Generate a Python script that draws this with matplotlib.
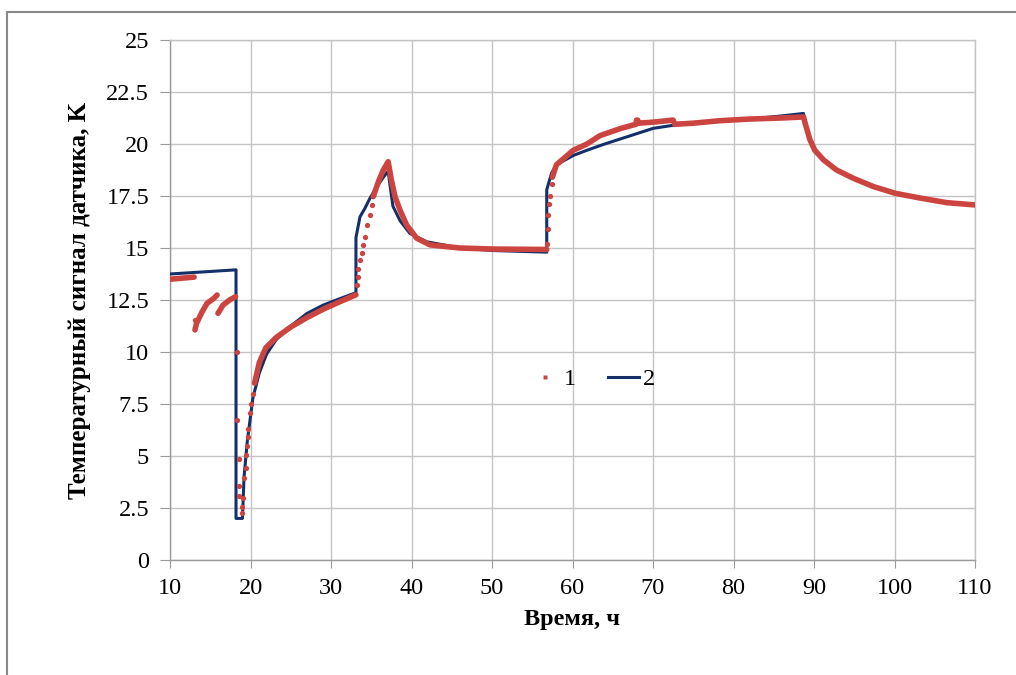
import matplotlib
matplotlib.use("Agg")
import matplotlib.pyplot as plt
from matplotlib.lines import Line2D
from matplotlib.patches import Rectangle

# series 2 (solid line)
blue_x = [10, 18.2, 18.2, 19.0, 19.2, 19.6, 20.3, 21.1, 22, 23.2, 25, 27, 29, 31, 33.1, 33.1,
          33.6, 34.2, 34.85, 35.7, 36.5, 37.1, 37.3, 37.7, 38.6, 39.8, 41.9, 46, 50, 56.8, 56.8,
          57.4, 58.0, 60.1, 61.8, 64, 66, 68, 70, 72.5, 75, 78, 82, 86, 88.7, 88.9, 89.5, 90.1,
          91.2, 92.8, 94.9, 97.4, 100.1, 103.2, 106.5, 110]
blue_y = [13.75, 13.95, 2.0, 2.0, 4.0, 5.7, 7.8, 9.0, 9.9, 10.6, 11.25, 11.85, 12.25, 12.55, 12.85, 15.5,
          16.5, 16.9, 17.4, 17.95, 18.4, 18.7, 18.1, 17.0, 16.3, 15.7, 15.3, 15.0, 14.88, 14.8, 17.8,
          18.6, 19.0, 19.45, 19.7, 20.0, 20.25, 20.5, 20.75, 20.9, 21.0, 21.1, 21.2, 21.35, 21.47, 21.0, 20.2, 19.7,
          19.23, 18.75, 18.35, 17.95, 17.63, 17.4, 17.18, 17.05]

# series 1 (dots): dense runs
red_runs_x = [
    [10, 11.5, 13.0],
    [13.1, 13.3, 14.0, 14.6, 15.45, 15.85],
    [15.96, 16.6, 17.4, 18.15],
    [20.5, 21.1, 21.9, 23.2, 25, 27, 29, 31, 33.1],
    [35.25, 35.9, 36.5, 37.1, 37.5, 37.95, 38.6, 39.4, 40.65, 42.3, 46, 50, 56.8],
    [57.5, 58.0, 60.1, 61.8, 63.4, 66, 67.9, 67.95, 68.1, 68.15, 70, 72.5, 72.7, 75, 78.3,
     82, 86, 88.7, 88.9, 89.5, 90.1, 91.2, 92.8, 94.9, 97.4, 100.1, 103.2, 106.5, 110],
]
red_runs_y = [
    [13.5, 13.55, 13.6],
    [11.06, 11.38, 11.94, 12.34, 12.58, 12.74],
    [11.86, 12.26, 12.5, 12.66],
    [8.5, 9.5, 10.2, 10.7, 11.2, 11.65, 12.05, 12.4, 12.75],
    [17.47, 18.2, 18.75, 19.15, 18.27, 17.47, 16.8, 16.1, 15.47, 15.15, 15.0, 14.95, 14.93],
    [18.4, 19.0, 19.7, 20.0, 20.4, 20.75, 20.95, 21.15, 21.15, 21.0, 21.05, 21.15, 20.95, 21.0, 21.12,
     21.2, 21.25, 21.3, 21.0, 20.2, 19.7, 19.23, 18.75, 18.35, 17.95, 17.63, 17.4, 17.18, 17.07],
]
# series 1: isolated dots
red_pts_x = [13.1, 18.28, 18.28, 18.53, 18.57, 18.61, 18.9, 19.0, 19.1, 19.2, 19.4, 19.5, 19.6,
             19.65, 19.7, 19.9, 20.1, 20.3,
             33.2, 33.3, 33.4, 33.6, 33.8, 34.0, 34.2, 34.5, 34.85, 35.05,
             56.8, 56.9, 57.0, 57.1, 57.2, 57.4]
red_pts_y = [11.54, 10.0, 6.73, 4.84, 3.56, 3.08, 2.56, 2.24, 2.97, 3.94, 4.44, 5.05, 5.5,
             5.93, 6.3, 7.06, 7.5, 8.0,
             13.2, 13.6, 14.0, 14.4, 14.75, 15.15, 15.55, 16.1, 16.6, 17.05,
             15.2, 15.9, 16.6, 17.1, 17.5, 18.1]

x_ticks = list(range(10, 111, 10))
y_ticks = [0, 2.5, 5, 7.5, 10, 12.5, 15, 17.5, 20, 22.5, 25]
y_labels = ["0", "2.5", "5", "7.5", "10", "12.5", "15", "17.5", "20", "22.5", "25"]

RED = "#CC4440"
NAVY = "#13306B"
GRID = "#C4C4C4"

plt.rcParams["font.family"] = ["Liberation Serif", "DejaVu Serif"]

fig = plt.figure(figsize=(10.16, 6.75), dpi=100)
ax = fig.add_axes([170 / 1016, 1 - 560 / 675, 805 / 1016, 520 / 675])

ax.plot(blue_x, blue_y, color=NAVY, lw=2.2, zorder=3)
for xs, ys in zip(red_runs_x, red_runs_y):
    ax.plot(xs, ys, color=RED, lw=4.0, solid_capstyle="round", solid_joinstyle="round", zorder=4)
ax.plot(red_pts_x, red_pts_y, ls="none", marker="o", ms=3.8, color=RED, mec="none", zorder=4)

ax.set_xlim(10, 110)
ax.set_ylim(0, 25)
ax.set_xticks(x_ticks)
ax.set_yticks(y_ticks)
ax.set_yticklabels(y_labels)
ax.grid(True, color=GRID, lw=1)
ax.set_axisbelow(True)
for s in ax.spines.values():
    s.set_color(GRID)
    s.set_linewidth(1)
ax.spines["left"].set_color("#9A9A9A")
ax.spines["bottom"].set_color("#9A9A9A")
ax.tick_params(axis="x", direction="out", length=6, color="#9A9A9A", labelsize=17.5, pad=7)
ax.tick_params(axis="y", direction="out", length=7, color="#9A9A9A", labelsize=17.5, pad=8)

ax.set_xlabel("Время, ч", fontsize=17.5, fontweight="bold", labelpad=7)
ax.set_ylabel("Температурный сигнал датчика, K", fontsize=18, fontweight="bold", labelpad=11)

handles = [Line2D([], [], ls="none", marker="s", ms=3, color=RED, mec="none"),
           Line2D([], [], color=NAVY, lw=2.2)]
fig.legend(handles, ["1", "2"], loc="center", bbox_to_anchor=(592 / 1016, 1 - 379 / 675),
           ncol=2, frameon=False, fontsize=17.5, handlelength=1.3, handletextpad=0.15,
           columnspacing=1.3)

fig.patches.append(Rectangle((7 / 1016, -0.1), 1.2, 1.1 - 12 / 675, transform=fig.transFigure,
                             fill=False, edgecolor="#8A8A8A", lw=1.5))

fig.savefig("out.png", dpi=100)
